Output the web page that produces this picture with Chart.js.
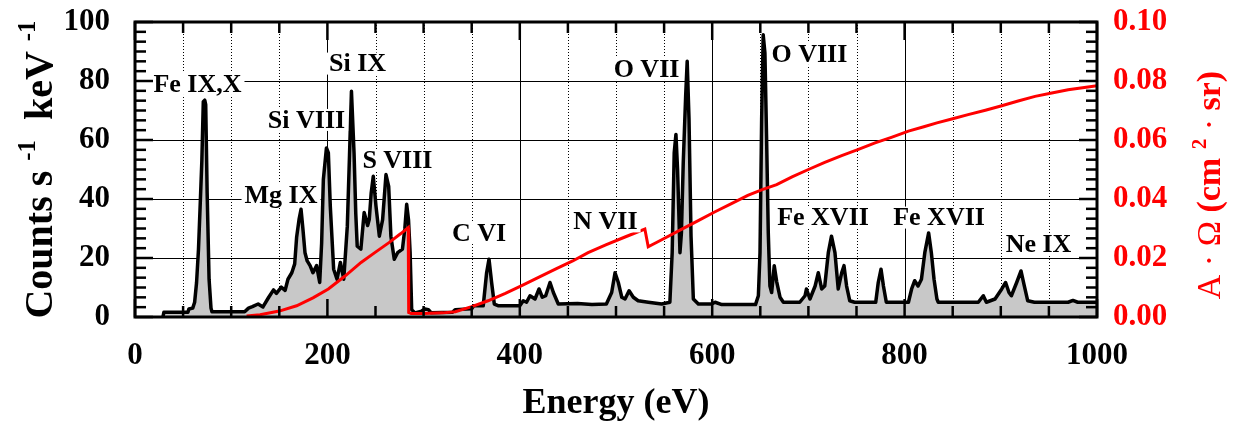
<!DOCTYPE html>
<html>
<head>
<meta charset="utf-8">
<script src="https://cdn.jsdelivr.net/npm/chart.js@4.4.1/dist/chart.umd.min.js"></script>
<style>
  html, body { margin: 0; padding: 0; background: #fff; }
  #wrap { width: 1233px; height: 425px; }
</style>
</head>
<body>
<div id="wrap"><canvas id="spectrum" width="1233" height="425"></canvas></div>
<script>
// spectrum, counts s-1 keV-1 (left axis)
const energy = [
    29, 30, 55, 56, 60, 62, 64, 66, 68, 69.5, 71, 72.5, 73.5, 75, 77, 79, 80,
    114, 118, 122, 128, 133, 139, 144, 147, 152, 156, 159, 163, 166, 168,
    170.5, 172.6, 174.5, 176.7, 179, 182, 185, 188.8, 192, 194, 195.8, 199, 201, 203, 206.5, 210, 213.5, 217, 220.7, 223, 225, 227.7, 229.5, 231,
    234.8, 238.2, 241.8, 243.5, 245.5, 247.7, 250.5, 254, 257.4, 260.9, 263.7, 266, 269.5, 273, 278, 280.5, 282.4, 284.3, 286, 287.6,
    291, 297.9, 301.4, 305, 308, 330, 333, 350, 352, 362, 365.5, 368, 370.7, 373.5, 378, 400, 403.6, 407, 410.6, 415.8, 420, 423.4, 426.9, 431.4, 434.9, 440,
    460, 475, 490, 495.5, 499, 502.4, 506, 509.4, 513.6, 518, 523, 533.6, 547.5, 556, 558.4, 560.5, 562.3, 564, 566.5, 568, 569.9, 572.4, 574, 575.9, 578, 580.4,
    585.6, 599.5, 603, 610, 645, 648, 649.7, 651.4, 653, 654.8, 656.5, 658.3, 660, 661.8, 664.5, 667, 670.5, 674,
    691, 696.5, 698, 701.6, 707, 710.3, 713.8, 717, 720.7, 724, 727.6, 731, 734.6, 737, 739.7, 743, 748, 770, 772.6, 775.5, 778, 781,
    804, 807.3, 810.5, 814, 817.5, 821, 825, 827.8, 830.6, 833.6, 835, 876.6, 881.8, 885, 894, 901, 905, 908.5, 911, 916.5, 921, 924.5, 928, 935, 970, 975, 980, 1000
];
const counts = [
    0, 1.6, 1.6, 2.7, 3, 5, 11.7, 23, 40, 53, 73, 73.5, 72, 42, 12.8, 3, 1.8,
    1.8, 3, 3.5, 4.4, 3.4, 6.7, 9.2, 8, 10.1, 9, 12.8, 15, 18, 27,
    33, 36.5, 30, 21.8, 19, 17.4, 15, 17.4, 11.7, 25, 46.6, 57.3, 55.6, 37.6, 16.2, 12.8, 18.5, 12.8, 30.8, 55, 76.5, 55.6, 35, 24,
    23, 35.4, 31, 33, 42, 47.7, 37.6, 27.4, 33, 48.3, 44.3, 27.4, 19.6, 21.8, 23, 30, 38.2, 33, 21.8, 2.5,
    1.4, 2, 2.7, 2.5, 1.4, 1.6, 2.5, 2.8, 3.8, 3.8, 15, 19.6, 11.7, 4.4, 3.8, 3.8, 5.5, 5, 7.2, 6.1, 9.5, 6.7, 7.2, 11.7, 8.3, 4.4,
    4.6, 4.2, 4.4, 8.3, 15, 11.7, 6.7, 6.1, 8.9, 6.7, 5.5, 5, 4.4, 5, 21.8, 55.6, 61.9, 50, 21.8, 28.5, 52.3, 74.8, 86.7, 67, 27.4, 6.1,
    4.4, 4.4, 5, 4.2, 4.2, 7.2, 21.8, 67, 95.7, 89.5, 61.3, 28.5, 10.5, 8.3, 17.4, 12, 6.7, 5,
    5, 7.2, 9.5, 6.1, 10.5, 15, 9.5, 10.5, 21.8, 27.4, 21.8, 9.5, 15, 17.4, 10.5, 5.5, 5, 5, 11.7, 16.2, 10.5, 5,
    5, 9.5, 12.3, 10.5, 12.8, 21.8, 28.5, 21.8, 12.8, 6.1, 5, 5, 7.2, 5, 6.1, 9.5, 11.7, 8.3, 7.2, 11.7, 15.6, 10.5, 5.5, 5, 5, 5.6, 5, 5
];

// effective area A·Ω, cm2·sr (right axis)
const areaEnergy = [
    116, 130, 150, 168, 185, 201, 218, 235, 250, 264, 276, 284, 284.5, 287, 300, 320, 333, 350, 367, 385,
    402, 420, 437, 455, 471, 490, 510, 530, 533.5, 550, 568, 585, 602.5, 620, 637, 652, 667, 683, 700, 717,
    734.6, 752, 769.3, 787, 804, 820, 833.6, 850, 866, 884, 901, 918, 935.6, 953, 970, 985, 1000
];
const areaValues = [
    0.0003, 0.0008, 0.002, 0.0038, 0.0065, 0.0095, 0.0138, 0.0185, 0.022, 0.0252, 0.0282, 0.0303, 0.0015, 0.0012, 0.0012, 0.0014, 0.0018, 0.0035, 0.0055, 0.008,
    0.0106, 0.0135, 0.0162, 0.019, 0.0218, 0.0245, 0.0272, 0.0298, 0.0238, 0.0266, 0.0297, 0.0326, 0.0356, 0.0384, 0.0412, 0.0432, 0.0449, 0.0475, 0.05, 0.0524,
    0.0547, 0.0568, 0.059, 0.061, 0.063, 0.0645, 0.0658, 0.0672, 0.0686, 0.0701, 0.0716, 0.0732, 0.0748, 0.0759, 0.077, 0.0777, 0.0784
];

const energyTicks = [0, 200, 400, 600, 800, 1000];
const countTicks = [0, 20, 40, 60, 80, 100];
const areaTicks = [0, 0.02, 0.04, 0.06, 0.08, 0.10];

// line identifications (label centre in eV / counts)
const lineNames  = ['Fe IX,X', 'Mg IX', 'Si VIII', 'Si IX', 'S VIII', 'C VI', 'N VII', 'O VII', 'O VIII', 'Fe XVII', 'Fe XVII', 'Ne IX'];
const lineEnergy = [64.9, 151.8, 178.3, 231.3, 272.8, 357.6, 489, 531.7, 701, 715.2, 835.8, 939.2];
const lineLevel  = [79.0, 41.4, 66.8, 85.9, 53.2, 28.5, 32.4, 84.1, 89.2, 33.7, 33.7, 24.7];

const SERIF = '"Liberation Serif", "Times New Roman", serif';
const RED = '#ff0000';

function seg(ctx, x1, y1, x2, y2) {
    ctx.beginPath();
    ctx.moveTo(x1, y1);
    ctx.lineTo(x2, y2);
    ctx.stroke();
}

// draws a title made of pieces (normal / bold / superscript) centred on 0,0
function richText(ctx, parts, size, color) {
    let total = 0;
    parts.forEach(p => {
        p.px = p.sup ? size * 0.62 : size;
        ctx.font = (p.bold ? 'bold ' : '') + p.px + 'px ' + SERIF;
        p.w = ctx.measureText(p.t).width;
        total += p.w;
    });
    let cx = -total / 2;
    ctx.fillStyle = color;
    ctx.textBaseline = 'alphabetic';
    ctx.textAlign = 'left';
    parts.forEach(p => {
        ctx.font = (p.bold ? 'bold ' : '') + p.px + 'px ' + SERIF;
        ctx.fillText(p.t, cx, p.sup ? -size * 0.42 : 0);
        cx += p.w;
    });
}

// keep the plot box where the picture has it
function noPad(s) {
    s.paddingTop = 0;
    s.paddingBottom = 0;
    s.paddingLeft = 0;
    s.paddingRight = 0;
}

const decor = {
    id: 'decor',
    beforeDatasetsDraw(chart) {
        const { ctx, chartArea: a, scales: { x, y } } = chart;
        ctx.save();
        ctx.strokeStyle = '#000';
        ctx.lineWidth = 1;
        for (let e = 50; e < 1000; e += 50) {
            const px = Math.round(x.getPixelForValue(e)) + 0.5;
            ctx.setLineDash(e % 200 === 0 ? [] : [1, 2]);
            seg(ctx, px, a.top, px, a.bottom);
        }
        ctx.setLineDash([]);
        countTicks.forEach(v => {
            if (v <= 0 || v >= 100) return;
            const py = Math.round(y.getPixelForValue(v)) + 0.5;
            seg(ctx, a.left, py, a.right, py);
        });
        ctx.restore();
    },
    afterDatasetsDraw(chart) {
        const { ctx, chartArea: a, scales: { x, y } } = chart;
        ctx.save();

        // line labels with white boxes
        ctx.font = 'bold 26px ' + SERIF;
        ctx.textAlign = 'center';
        ctx.textBaseline = 'middle';
        lineNames.forEach((name, i) => {
            const px = x.getPixelForValue(lineEnergy[i]);
            const py = y.getPixelForValue(lineLevel[i]);
            const w = ctx.measureText(name).width;
            ctx.fillStyle = '#fff';
            ctx.fillRect(px - w / 2 - 3, py - 11, w + 6, 22);
            ctx.fillStyle = '#000';
            ctx.fillText(name, px, py + 1);
        });

        // inward ticks on all four sides
        ctx.strokeStyle = '#000';
        ctx.lineWidth = 2.5;
        for (let e = 0; e <= 1000; e += 50) {
            const px = x.getPixelForValue(e);
            const len = e % 200 === 0 ? 18 : 11;
            seg(ctx, px, a.top, px, a.top + len);
            seg(ctx, px, a.bottom, px, a.bottom - len);
        }
        for (let i = 0; i <= 30; i++) {
            const py = y.getPixelForValue(i * 100 / 30);
            const len = i % 6 === 0 ? 18 : 11;
            seg(ctx, a.left, py, a.left + len, py);
            seg(ctx, a.right, py, a.right - len, py);
        }

        // frame
        ctx.lineWidth = 3;
        ctx.strokeRect(a.left, a.top, a.right - a.left, a.bottom - a.top);

        // axis titles
        ctx.save();
        ctx.translate(52, (a.top + a.bottom) / 2);
        ctx.rotate(-Math.PI / 2);
        richText(ctx, [
            { t: 'Counts s ', bold: true },
            { t: '-1', bold: true, sup: true },
            { t: '  keV ', bold: true },
            { t: '-1', bold: true, sup: true }
        ], 40, '#000');
        ctx.restore();

        ctx.save();
        ctx.translate(1220, 185);
        ctx.rotate(-Math.PI / 2);
        richText(ctx, [
            { t: 'A \u00b7 \u03a9 ' },
            { t: '(cm ', bold: true },
            { t: '2', bold: true, sup: true },
            { t: ' \u00b7 ' },
            { t: 'sr)', bold: true }
        ], 34, RED);
        ctx.restore();

        ctx.save();
        ctx.translate((a.left + a.right) / 2, 413);
        richText(ctx, [{ t: 'Energy (eV)', bold: true }], 36, '#000');
        ctx.restore();

        ctx.restore();
    }
};

const tickFont = { family: SERIF, size: 31, weight: 'bold' };

new Chart(document.getElementById('spectrum'), {
    type: 'line',
    data: {
        datasets: [
            {
                label: 'A\u00b7\u03a9',
                data: areaEnergy.map((e, i) => ({ x: e, y: areaValues[i] })),
                yAxisID: 'y2',
                borderColor: RED,
                borderWidth: 3,
                pointRadius: 0,
                fill: false,
                order: 0
            },
            {
                label: 'Counts',
                data: energy.map((e, i) => ({ x: e, y: counts[i] })),
                yAxisID: 'y',
                borderColor: '#000',
                borderWidth: 3.5,
                borderJoinStyle: 'round',
                backgroundColor: '#c8c8c8',
                fill: 'origin',
                pointRadius: 0,
                order: 1
            }
        ]
    },
    options: {
        responsive: false,
        animation: false,
        events: [],
        layout: { padding: { top: 22, left: 0, right: 0, bottom: 0 } },
        plugins: { legend: { display: false }, tooltip: { enabled: false } },
        scales: {
            x: {
                type: 'linear', position: 'bottom', min: 0, max: 1000,
                grid: { display: false, drawTicks: false },
                border: { display: false },
                afterBuildTicks: s => { s.ticks = energyTicks.map(v => ({ value: v })); },
                ticks: { font: tickFont, color: '#000', padding: 20, maxRotation: 0, autoSkip: false, callback: v => String(v) },
                afterFit: s => { s.height = 108; noPad(s); }
            },
            y: {
                type: 'linear', position: 'left', min: 0, max: 100,
                grid: { display: false, drawTicks: false },
                border: { display: false },
                afterBuildTicks: s => { s.ticks = countTicks.map(v => ({ value: v })); },
                ticks: { font: tickFont, color: '#000', padding: 25, callback: v => String(v) },
                afterFit: s => { s.width = 135; noPad(s); }
            },
            y2: {
                type: 'linear', position: 'right', min: 0, max: 0.1,
                grid: { display: false, drawTicks: false },
                border: { display: false },
                afterBuildTicks: s => { s.ticks = areaTicks.map(v => ({ value: v })); },
                ticks: { font: tickFont, color: RED, padding: 16, callback: v => v.toFixed(2) },
                afterFit: s => { s.width = 136; noPad(s); }
            }
        }
    },
    plugins: [decor]
});
</script>
</body>
</html>
